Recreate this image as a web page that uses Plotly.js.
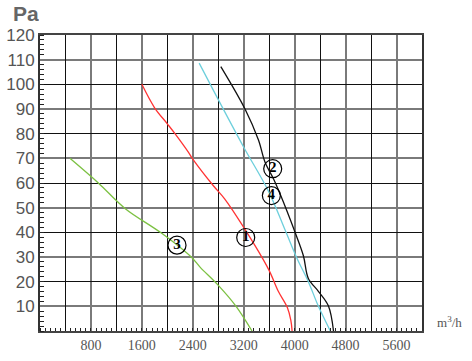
<!DOCTYPE html>
<html>
<head>
<meta charset="utf-8">
<script src="https://cdn.plot.ly/plotly-3.0.1.min.js"></script>
<style>html,body{margin:0;padding:0;background:#fff;}#chart{width:472px;height:361px;}</style>
</head>
<body>
<div id="chart"></div>
<script>
// Curve 1 (red)
const curve1X = [1600, 1800, 2000, 2120, 2330, 2400, 2720, 2900, 3200, 3590, 3745, 3885, 3940, 3960];
const curve1Y = [100, 90.5, 84, 80, 72.5, 69.7, 59, 53.6, 42, 25, 16, 9.5, 4.3, 0];
// Curve 2 (black)
const curve2X = [2840, 3220, 3430, 3535, 3665, 3770, 4006, 4137, 4215, 4372, 4529, 4610];
const curve2Y = [107.2, 90, 77.5, 68.4, 61.8, 55.6, 40, 30.5, 21.3, 16.1, 10.2, 0];
// Curve 3 (green)
const curve3X = [470, 916, 1335, 1912, 2383, 2514, 2801, 3080, 3330];
const curve3Y = [70, 60, 49.7, 39.6, 29.8, 25.9, 18.5, 10, 0];
// Curve 4 (cyan)
const curve4X = [2500, 2800, 3200, 3590, 3850, 4030, 4215, 4370, 4560];
const curve4Y = [108.6, 93.8, 74.5, 56.6, 40.9, 29.8, 20, 10.2, 0];
// Curve labels
const labelText = ['1', '2', '3', '4'];
const labelX = [3231, 3655, 2152, 3634];
const labelY = [37.9, 65.8, 34.8, 54.9];
// Tick labels
const xTicks = [800, 1600, 2400, 3200, 4000, 4800, 5600];
const yTicks = [10, 20, 30, 40, 50, 60, 70, 80, 90, 100, 110, 120];

function line(x, y, color) {
  return {x: x, y: y, type: 'scatter', mode: 'lines', line: {color: color, width: 1.3, shape: 'spline', smoothing: 1}, hoverinfo: 'skip', showlegend: false};
}

const data = [
  {x: [], y: [], xaxis: 'x2', yaxis: 'y', type: 'scatter', showlegend: false},
  {x: [], y: [], xaxis: 'x', yaxis: 'y2', type: 'scatter', showlegend: false},
  line(curve3X, curve3Y, '#7cc142'),
  line(curve1X, curve1Y, '#ff3333'),
  line(curve4X, curve4Y, '#6dcfdc'),
  line(curve2X, curve2Y, '#111111'),
  {x: labelX, y: labelY, text: labelText, type: 'scatter', mode: 'markers+text',
   textposition: 'middle center',
   textfont: {family: 'Liberation Serif, serif', size: 15, color: '#000', weight: 'bold'},
   marker: {symbol: 'circle', size: 18, color: 'rgba(255,255,255,0)', line: {color: '#000', width: 1.2}},
   hoverinfo: 'skip', showlegend: false}
];

const layout = {
  width: 472, height: 361,
  margin: {l: 40, r: 50, t: 35, b: 30},
  paper_bgcolor: '#fff', plot_bgcolor: '#fff',
  showlegend: false,
  xaxis: {
    range: [0, 6000], tickmode: 'array', tickvals: xTicks, ticks: '',
    showgrid: true, gridcolor: '#7a7a7a', gridwidth: 2, zeroline: false,
    showline: true, mirror: true, linecolor: '#444', linewidth: 2,
    tickfont: {family: 'Liberation Serif, serif', size: 14, color: '#555'},
    fixedrange: true
  },
  xaxis2: {
    range: [0, 6000], overlaying: 'x', anchor: 'y', side: 'bottom',
    tickmode: 'linear', tick0: 400, dtick: 800, ticks: '', showticklabels: false,
    showgrid: true, gridcolor: '#111', gridwidth: 1, zeroline: false, showline: false,
    minor: {tickmode: 'linear', dtick: 80, ticks: 'inside', ticklen: 3, tickcolor: '#222', tickwidth: 1, showgrid: false}
  },
  yaxis: {
    range: [0, 120], tickmode: 'array', tickvals: yTicks, ticks: '',
    showgrid: true, gridcolor: '#111', gridwidth: 1, zeroline: false,
    showline: true, mirror: true, linecolor: '#333', linewidth: 2,
    tickfont: {family: 'Liberation Sans, Arial, sans-serif', size: 17, color: '#555'},
    fixedrange: true
  },
  yaxis2: {
    range: [0, 120], overlaying: 'y', anchor: 'x', side: 'left',
    tickmode: 'linear', tick0: 10, dtick: 20, ticks: '', showticklabels: false,
    showgrid: true, gridcolor: '#7a7a7a', gridwidth: 2, zeroline: false, showline: false,
    minor: {tickmode: 'linear', dtick: 2, ticks: 'inside', ticklen: 4, tickcolor: '#222', tickwidth: 1, showgrid: false}
  },
  annotations: [
    {text: '<b>Pa</b>', xref: 'paper', yref: 'paper', x: -0.075, y: 1.074, xanchor: 'left', yanchor: 'middle',
     height: 16, showarrow: false, font: {family: 'Liberation Sans, Arial, sans-serif', size: 21, color: '#666'}},
    {text: 'm<sup>3</sup>/h', xref: 'paper', yref: 'paper', x: 1.073, y: 0.03, xanchor: 'center', yanchor: 'middle',
     showarrow: false, font: {family: 'Liberation Serif, serif', size: 13, color: '#555'}}
  ]
};

Plotly.newPlot('chart', data, layout, {staticPlot: true, displayModeBar: false});
</script>
</body>
</html>
